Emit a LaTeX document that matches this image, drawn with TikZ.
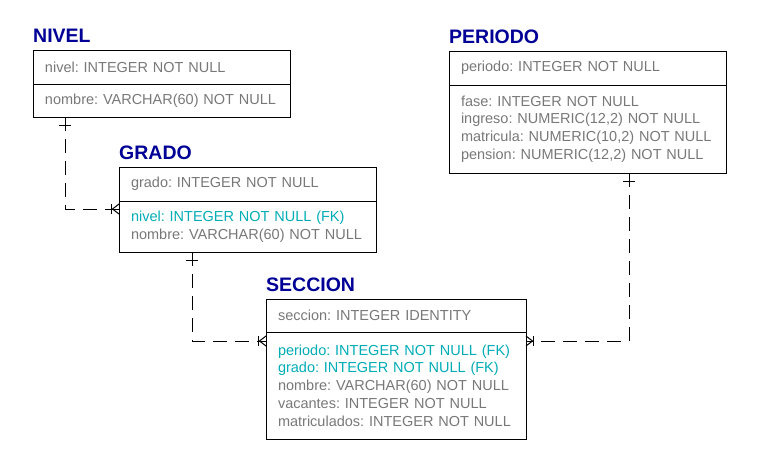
\documentclass[tikz,border=0pt]{standalone}
\usepackage{fontspec}
\setmainfont{Liberation Sans}
\frenchspacing
\usetikzlibrary{positioning}
\usetikzlibrary{decorations.markings}

\definecolor{titulo}{RGB}{0,0,150}
\definecolor{campo}{RGB}{120,120,120}
\definecolor{foranea}{RGB}{0,172,182}

\tikzset{
  tabla/.style={draw, line width=1pt, anchor=north west, inner xsep=12pt, inner ysep=0pt, outer sep=0pt,
    align=left, text=campo, font=\fontsize{14.5}{17.8}\selectfont},
  titulotabla/.style={inner sep=0pt, text=titulo, font=\fontsize{19.5}{22}\selectfont\bfseries},
  rel/.style={line width=1pt, dash pattern=on 14pt off 8pt, postaction={decorate},
    decoration={markings,
      mark=at position 8pt with {\draw[solid, line width=1pt] (0,-6pt) -- (0,6pt);},
      mark=at position -7.5pt with {\draw[solid, line width=1pt] (0,-5pt) -- (0,5pt);},
      mark=at position -0.5pt with {\draw[solid, line width=1pt] (0.5pt,5pt) -- (-6pt,0) -- (0.5pt,-5pt);}}}
}

\begin{document}
\begin{tikzpicture}[x=1pt, y=-1pt]
  \useasboundingbox (0,0) rectangle (764,467);

  % Tabla NIVEL
  \node[tabla, text width=233pt, minimum height=34pt] (nivelclave) at (33,50) {nivel: INTEGER NOT NULL};
  \node[tabla, text width=233pt, minimum height=33pt, below=0pt of nivelclave] (nivelattr) {nombre: VARCHAR(60) NOT NULL};
  \node[titulotabla, above right=7pt and 0pt of nivelclave.north west] (niveltit) {NIVEL};

  % Tabla GRADO
  \node[tabla, text width=233pt, minimum height=34pt] (gradoclave) at (119,167) {grado: INTEGER NOT NULL};
  \node[tabla, text width=233pt, minimum height=51pt, below=0pt of gradoclave] (gradoattr)
    {\textcolor{foranea}{nivel: INTEGER NOT NULL (FK)}\\nombre: VARCHAR(60) NOT NULL};
  \node[titulotabla, above right=7pt and 0pt of gradoclave.north west] (gradotit) {GRADO};

  % Tabla SECCION
  \node[tabla, text width=236pt, minimum height=33pt] (seccionclave) at (266,299) {seccion: INTEGER IDENTITY};
  \node[tabla, text width=236pt, minimum height=107pt, below=0pt of seccionclave] (seccionattr)
    {\textcolor{foranea}{periodo: INTEGER NOT NULL (FK)}\\\textcolor{foranea}{grado: INTEGER NOT NULL (FK)}\\nombre: VARCHAR(60) NOT NULL\\vacantes: INTEGER NOT NULL\\matriculados: INTEGER NOT NULL};
  \node[titulotabla, above right=7pt and 0pt of seccionclave.north west] (secciontit) {SECCION};

  % Tabla PERIODO
  \node[tabla, text width=253pt, minimum height=34pt] (periodoclave) at (449,51) {periodo: INTEGER NOT NULL};
  \node[tabla, text width=253pt, minimum height=88pt, below=0pt of periodoclave] (periodoattr)
    {fase: INTEGER NOT NULL\\ingreso: NUMERIC(12,2) NOT NULL\\matricula: NUMERIC(10,2) NOT NULL\\pension: NUMERIC(12,2) NOT NULL};
  \node[titulotabla, above right=7pt and 0pt of periodoclave.north west] (periodotit) {PERIODO};

  % Relaciones
  \draw[rel] ([shift={(32,0)}]nivelattr.south west) |- ([shift={(0,8)}]gradoattr.north west); % NIVEL - GRADO
  \draw[rel] ([shift={(73,0)}]gradoattr.south west) |- ([shift={(0,9)}]seccionattr.north west); % GRADO - SECCION
  \draw[rel] ([shift={(180,0)}]periodoattr.south west) |- ([shift={(0,9)}]seccionattr.north east); % PERIODO - SECCION
\end{tikzpicture}
\end{document}
